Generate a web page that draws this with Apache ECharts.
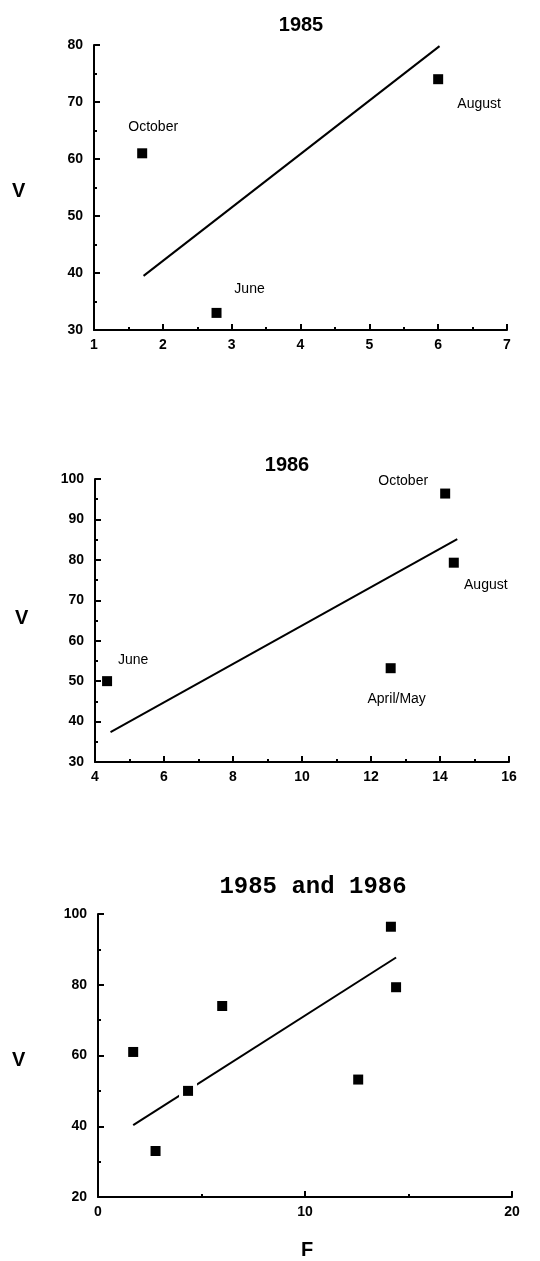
<!DOCTYPE html>
<html>
<head>
<meta charset="utf-8">
<title>V against F, 1985 and 1986</title>
<script src="https://cdn.jsdelivr.net/npm/echarts@6/dist/echarts.min.js"></script>
<style>
  html, body { margin: 0; padding: 0; background: #fff; }
  #chart { width: 540px; height: 1261px; }
</style>
</head>
<body>
<div id="chart"></div>
<script>
// 1985 survey points
const months1985 = ['October', 'June', 'August'];
const f1985 = [1.7, 2.78, 6.0];
const v1985 = [61, 33, 74];
// fitted line for 1985 (end points)
const fit1985F = [1.72, 6.02];
const fit1985V = [39.5, 79.8];

// 1986 survey points
const months1986 = ['June', 'April/May', 'October', 'August'];
const f1986 = [4.35, 12.57, 14.15, 14.4];
const v1986 = [50, 53.2, 96.4, 79.3];
const fit1986F = [4.45, 14.5];
const fit1986V = [37.4, 85.1];

// both years together
const fitAllF = [1.7, 14.4];
const fitAllV = [40.3, 87.7];

const chart = echarts.init(document.getElementById('chart'));

// where each month label sits relative to its marker
const labelOffsets = [
  { 'October': [11, -26], 'June': [33, -24], 'August': [41, 25] },
  { 'June': [26, -21], 'April/May': [6, 31], 'October': [-42, -12], 'August': [32, 22] }
];

const axisFont = { color: '#000', fontFamily: 'Liberation Sans', fontWeight: 'bold', fontSize: 14 };

function pairs(xs, ys) {
  return xs.map((x, i) => [x, ys[i]]);
}

function labelled(xs, ys, names, offsets) {
  return xs.map((x, i) => ({
    value: [x, ys[i]],
    name: names[i],
    label: { offset: offsets[names[i]] }
  }));
}

function xAxis(gi, min, max, interval) {
  return {
    type: 'value', gridIndex: gi, min: min, max: max, interval: interval,
    axisLine: { onZero: false, lineStyle: { color: '#000', width: 2 } },
    axisTick: { inside: true, length: 6, lineStyle: { color: '#000', width: 2 } },
    minorTick: { show: true, splitNumber: 2, length: 3, lineStyle: { color: '#000', width: 2 } },
    axisLabel: Object.assign({ margin: 8 }, axisFont),
    splitLine: { show: false }
  };
}

function yAxis(gi, min, max, interval) {
  return {
    type: 'value', gridIndex: gi, min: min, max: max, interval: interval,
    axisLine: { onZero: false, lineStyle: { color: '#000', width: 2 } },
    axisTick: { inside: true, length: 6, lineStyle: { color: '#000', width: 2 } },
    minorTick: { show: true, splitNumber: 2, length: 3, lineStyle: { color: '#000', width: 2 } },
    axisLabel: Object.assign({ margin: 11 }, axisFont),
    splitLine: { show: false }
  };
}

const markStyle = { color: '#000', opacity: 1 };
const monthLabel = {
  show: true, position: 'inside', formatter: '{b}',
  color: '#000', fontFamily: 'Liberation Sans', fontSize: 14
};
const fitLine = { color: '#000', width: 2 };

const option = {
  animation: false,
  backgroundColor: '#fff',
  title: [
    { text: '1985', left: 296, top: 20, textAlign: 'center', textVerticalAlign: 'middle',
      textStyle: { fontFamily: 'Liberation Sans', fontWeight: 'bold', fontSize: 20, color: '#000' } },
    { text: '1986', left: 282, top: 460, textAlign: 'center', textVerticalAlign: 'middle',
      textStyle: { fontFamily: 'Liberation Sans', fontWeight: 'bold', fontSize: 20, color: '#000' } },
    { text: '1985 and 1986', left: 308, top: 882, textAlign: 'center', textVerticalAlign: 'middle',
      textStyle: { fontFamily: 'Liberation Mono', fontWeight: 'bold', fontSize: 24, color: '#000' } }
  ],
  graphic: [
    { type: 'text', left: 12, top: 181, style: { text: 'V', font: 'bold 20px "Liberation Sans"', fill: '#000' } },
    { type: 'text', left: 15, top: 608, style: { text: 'V', font: 'bold 20px "Liberation Sans"', fill: '#000' } },
    { type: 'text', left: 12, top: 1050, style: { text: 'V', font: 'bold 20px "Liberation Sans"', fill: '#000' } },
    { type: 'text', left: 301, top: 1240, style: { text: 'F', font: 'bold 20px "Liberation Sans"', fill: '#000' } }
  ],
  grid: [
    { left: 94, top: 45, width: 413, height: 285 },
    { left: 95, top: 479, width: 414, height: 283 },
    { left: 98, top: 914, width: 414, height: 283 }
  ],
  xAxis: [
    xAxis(0, 1, 7, 1),
    xAxis(1, 4, 16, 2),
    xAxis(2, 0, 20, 10)
  ],
  yAxis: [
    yAxis(0, 30, 80, 10),
    yAxis(1, 30, 100, 10),
    yAxis(2, 20, 100, 20)
  ],
  series: [
    { type: 'line', xAxisIndex: 0, yAxisIndex: 0, data: pairs(fit1985F, fit1985V),
      showSymbol: false, lineStyle: fitLine },
    { type: 'scatter', xAxisIndex: 0, yAxisIndex: 0, symbol: 'rect', symbolSize: 10,
      data: labelled(f1985, v1985, months1985, labelOffsets[0]),
      itemStyle: markStyle, label: monthLabel },

    { type: 'line', xAxisIndex: 1, yAxisIndex: 1, data: pairs(fit1986F, fit1986V),
      showSymbol: false, lineStyle: fitLine },
    { type: 'scatter', xAxisIndex: 1, yAxisIndex: 1, symbol: 'rect', symbolSize: 10,
      data: labelled(f1986, v1986, months1986, labelOffsets[1]),
      itemStyle: markStyle, label: monthLabel },

    { type: 'line', xAxisIndex: 2, yAxisIndex: 2, data: pairs(fitAllF, fitAllV),
      showSymbol: false, lineStyle: fitLine, z: 1 },
    // white halo, the printed line breaks around the markers
    { type: 'scatter', xAxisIndex: 2, yAxisIndex: 2, symbol: 'rect', symbolSize: 18,
      data: pairs(f1985.concat(f1986), v1985.concat(v1986)),
      itemStyle: { color: '#fff', opacity: 1 }, z: 2, silent: true },
    { type: 'scatter', xAxisIndex: 2, yAxisIndex: 2, symbol: 'rect', symbolSize: 10,
      data: pairs(f1985.concat(f1986), v1985.concat(v1986)),
      itemStyle: markStyle, z: 3 }
  ]
};

chart.setOption(option);
window.addEventListener('resize', function () {
  chart.resize();
});
</script>
</body>
</html>
